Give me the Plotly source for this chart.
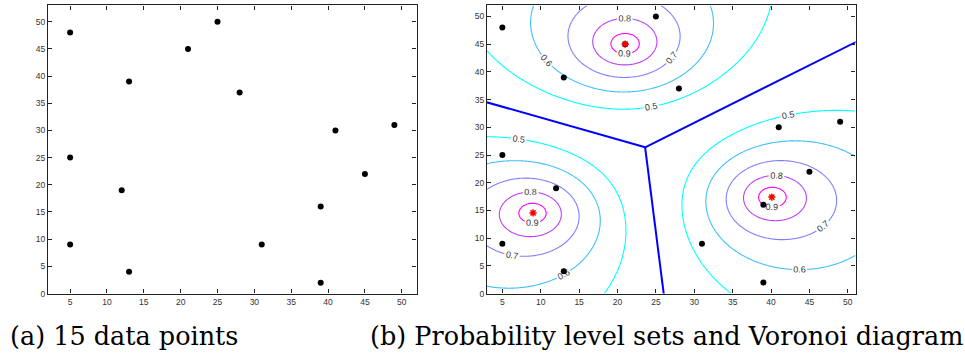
import numpy as np
import plotly.graph_objects as go

# ---------------- data ----------------
point_x = [5, 5, 5, 12, 13, 13, 21, 25, 28, 31, 39, 39, 41, 45, 49]
point_y = [48, 25, 9, 19, 39, 4, 45, 50, 37, 9, 16, 2, 30, 22, 31]

center_x = [21.0, 9.0, 40.1]
center_y = [45.0, 14.55, 17.4]

fuzzifier_m = 3.0            # fuzzy c-means exponent
level_start, level_end, level_step = 0.5, 0.9, 0.1

x_ticks = [5, 10, 15, 20, 25, 30, 35, 40, 45, 50]
y_ticks = [0, 5, 10, 15, 20, 25, 30, 35, 40, 45, 50]

caption_a = "(a) 15 data points"
caption_b = "(b) Probability level sets and Voronoi diagram"

# ---------------- layout constants ----------------
W, H = 965, 356
L1, R1 = 48, 416.5
L2, R2 = 487, 855.5
TOP, BOT = 5.5, 297.7

def fx(p):
    return p / W

def fy(p):
    return 1 - p / H

# ---------------- membership field (fuzzy c-means) ----------------
gx = np.linspace(3, 51, 321)
gy = np.linspace(0, 52, 347)
GX, GY = np.meshgrid(gx, gy)
cx = np.array(center_x)
cy = np.array(center_y)
q = 2.0 / (fuzzifier_m - 1.0)
D = np.sqrt((GX[None] - cx[:, None, None]) ** 2 + (GY[None] - cy[:, None, None]) ** 2)
D = np.maximum(D, 1e-6)
inv = D ** (-q)
U = inv / inv.sum(axis=0)
Z = U.max(axis=0)

# ---------------- Voronoi of the centers ----------------
C = np.stack([cx, cy], axis=1)
A, B, Cc = C
dd = 2 * (A[0] * (B[1] - Cc[1]) + B[0] * (Cc[1] - A[1]) + Cc[0] * (A[1] - B[1]))
ux = ((A @ A) * (B[1] - Cc[1]) + (B @ B) * (Cc[1] - A[1]) + (Cc @ Cc) * (A[1] - B[1])) / dd
uy = ((A @ A) * (Cc[0] - B[0]) + (B @ B) * (A[0] - Cc[0]) + (Cc @ Cc) * (B[0] - A[0])) / dd
vor_x, vor_y = [], []
for i, j, k in [(0, 1, 2), (0, 2, 1), (1, 2, 0)]:
    mid = (C[i] + C[j]) / 2
    e = C[j] - C[i]
    d = np.array([-e[1], e[0]])
    if d @ (C[k] - mid) > 0:
        d = -d
    d = d / np.linalg.norm(d)
    vor_x += [ux, ux + 200 * d[0], None]
    vor_y += [uy, uy + 200 * d[1], None]

fig = go.Figure()

# left panel: data points
fig.add_trace(go.Scatter(x=point_x, y=point_y, mode="markers",
                         marker=dict(color="black", size=6),
                         xaxis="x", yaxis="y", showlegend=False))

# right panel: contours
fig.add_trace(go.Contour(
    x=gx, y=gy, z=Z, xaxis="x2", yaxis="y2",
    zauto=False, zmin=level_start, zmax=level_end,
    autocontour=False,
    contours=dict(start=level_start, end=level_end + 1e-9, size=level_step,
                  coloring="lines", showlabels=True,
                  labelfont=dict(size=9, color="#333333", family="Liberation Sans, Arial"),
                  labelformat=".1f"),
    colorscale=[[0, "#00FFFF"], [1, "#FF00FF"]],
    line=dict(width=1.1, smoothing=1),
    showscale=False, hoverinfo="skip"))

fig.add_trace(go.Scatter(x=vor_x, y=vor_y, mode="lines",
                         line=dict(color="#0000FF", width=2),
                         xaxis="x2", yaxis="y2", showlegend=False))

fig.add_trace(go.Scatter(x=point_x, y=point_y, mode="markers",
                         marker=dict(color="black", size=6),
                         xaxis="x2", yaxis="y2", showlegend=False))

fig.add_trace(go.Scatter(x=center_x, y=center_y, mode="markers",
                         marker=dict(symbol="asterisk-open", color="red", size=6,
                                     line=dict(color="red", width=1.5)),
                         xaxis="x2", yaxis="y2", showlegend=False))

axis_common = dict(showgrid=False, zeroline=False, showline=True, linecolor="#222222",
                   linewidth=1.3, mirror="allticks", ticks="inside", ticklen=4,
                   tickwidth=1, tickcolor="#222222",
                   tickfont=dict(size=8.5, color="#333333", family="Liberation Sans, Arial"))

fig.update_layout(
    width=W, height=H, margin=dict(l=0, r=0, t=0, b=0),
    plot_bgcolor="white", paper_bgcolor="white", showlegend=False,
    xaxis=dict(domain=[fx(L1), fx(R1)], range=[2, 52], tickvals=x_ticks, anchor="y", **axis_common),
    yaxis=dict(domain=[fy(BOT), fy(TOP)], range=[0, 53], tickvals=y_ticks, anchor="x", **axis_common),
    xaxis2=dict(domain=[fx(L2), fx(R2)], range=[3, 51], tickvals=x_ticks, anchor="y2", **axis_common),
    yaxis2=dict(domain=[fy(BOT), fy(TOP)], range=[0, 52], tickvals=y_ticks, anchor="x2", **axis_common),
    annotations=[
        dict(text=caption_a, x=fx(123.5), y=fy(341), xref="paper", yref="paper",
             xanchor="center", yanchor="middle", showarrow=False,
             font=dict(family="DejaVu Serif", size=25.5, color="black")),
        dict(text=caption_b, x=fx(666), y=fy(341), xref="paper", yref="paper",
             xanchor="center", yanchor="middle", showarrow=False,
             font=dict(family="DejaVu Serif", size=25.5, color="black")),
    ],
)

fig.write_html("out.html")
